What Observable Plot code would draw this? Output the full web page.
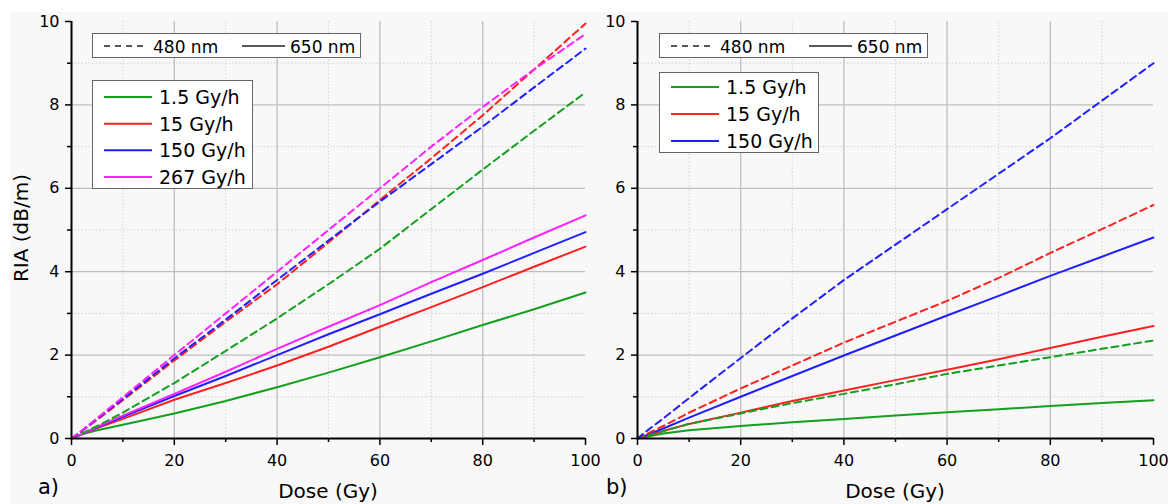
<!DOCTYPE html>
<html><head><meta charset="utf-8">
<script src="https://cdn.jsdelivr.net/npm/d3@7"></script>
<script src="https://cdn.jsdelivr.net/npm/@observablehq/plot@0.6"></script>
<style>
html,body{margin:0;padding:0;background:#fff;}
#root{position:relative;width:1171px;height:504px;overflow:hidden;}
.bg{position:absolute;left:10px;top:12px;width:1158px;height:492px;background:#f8f8f8;}
.panel{position:absolute;top:0;}
#overlay{position:absolute;left:0;top:0;pointer-events:none;}
</style></head>
<body><div id="root"><div class="bg"></div></div>
<script>
// ---- data ----
const doses = [0, 2, 5, 10, 20, 30, 40, 50, 60, 70, 80, 90, 100];
const ratesA = ["1.5 Gy/h", "15 Gy/h", "150 Gy/h", "267 Gy/h"];
const ratesB = ["1.5 Gy/h", "15 Gy/h", "150 Gy/h"];
const rateColors = ["#12a01e", "#ff2020", "#2020ff", "#ff22ff"];
const wavelengths = ["480 nm", "650 nm"];
const xMajor = [0, 20, 40, 60, 80, 100];
const xMinor = [10, 30, 50, 70, 90];
const yMajor = [0, 2, 4, 6, 8, 10];
const yMinor = [1, 3, 5, 7, 9];

// panel a) 480 nm
const a480_1_5 = [0, 0.12, 0.30, 0.62, 1.33, 2.10, 2.88, 3.70, 4.55, 5.50, 6.45, 7.38, 8.30];
const a480_15  = [0, 0.18, 0.45, 0.92, 1.87, 2.80, 3.70, 4.70, 5.72, 6.72, 7.75, 8.85, 9.95];
const a480_150 = [0, 0.18, 0.47, 0.95, 1.92, 2.85, 3.80, 4.75, 5.68, 6.58, 7.48, 8.42, 9.35];
const a480_267 = [0, 0.19, 0.49, 0.99, 2.00, 3.00, 4.00, 5.00, 6.00, 7.00, 7.95, 8.85, 9.70];
// panel a) 650 nm
const a650_1_5 = [0, 0.10, 0.20, 0.33, 0.60, 0.90, 1.23, 1.58, 1.95, 2.33, 2.72, 3.10, 3.50];
const a650_15  = [0, 0.10, 0.25, 0.47, 0.93, 1.33, 1.75, 2.20, 2.68, 3.15, 3.63, 4.12, 4.60];
const a650_150 = [0, 0.10, 0.27, 0.52, 1.02, 1.50, 2.00, 2.50, 2.98, 3.47, 3.95, 4.45, 4.95];
const a650_267 = [0, 0.10, 0.28, 0.55, 1.07, 1.60, 2.15, 2.68, 3.20, 3.75, 4.28, 4.82, 5.35];
// panel b) 480 nm
const b480_1_5 = [0, 0.07, 0.18, 0.35, 0.60, 0.85, 1.07, 1.30, 1.55, 1.75, 1.95, 2.15, 2.35];
const b480_15  = [0, 0.12, 0.30, 0.62, 1.20, 1.75, 2.30, 2.80, 3.30, 3.85, 4.45, 5.02, 5.60];
const b480_150 = [0, 0.20, 0.48, 0.97, 1.93, 2.88, 3.80, 4.65, 5.50, 6.35, 7.20, 8.10, 9.00];
// panel b) 650 nm
const b650_1_5 = [0, 0.05, 0.12, 0.20, 0.30, 0.39, 0.47, 0.55, 0.63, 0.70, 0.78, 0.85, 0.92];
const b650_15  = [0, 0.07, 0.18, 0.35, 0.62, 0.90, 1.15, 1.40, 1.65, 1.90, 2.17, 2.44, 2.70];
const b650_150 = [0, 0.09, 0.24, 0.50, 1.00, 1.50, 1.99, 2.47, 2.95, 3.42, 3.90, 4.36, 4.82];

function table(seriesByWl, rates) {
  const out = [];
  wavelengths.forEach((wl, wi) => {
    seriesByWl[wi].forEach((vals, ri) => {
      vals.forEach((v, i) => out.push({dose: doses[i], ria: v, rate: rates[ri], wl}));
    });
  });
  return out;
}
const dataA = table([[a480_1_5, a480_15, a480_150, a480_267], [a650_1_5, a650_15, a650_150, a650_267]], ratesA);
const dataB = table([[b480_1_5, b480_15, b480_150], [b650_1_5, b650_15, b650_150]], ratesB);

const FONT = "DejaVu Sans, sans-serif";

function panel(data, rates, ml, mr) {
  return Plot.plot({
    width: 595, height: 504,
    marginLeft: ml, marginRight: mr, marginTop: 21, marginBottom: 66,
    x: {domain: [0, 100]},
    y: {domain: [0, 10]},
    color: {domain: rates, range: rateColors.slice(0, rates.length)},
    style: {background: "transparent", fontFamily: FONT, fontSize: "16px", color: "#000", overflow: "visible"},
    marks: [
      Plot.ruleX(xMinor, {stroke: "#d2d2d2", strokeDasharray: "1.5,2", strokeWidth: 1}),
      Plot.ruleY(yMinor, {stroke: "#d2d2d2", strokeDasharray: "1.5,2", strokeWidth: 1}),
      Plot.ruleX(xMajor.filter(d => d > 0 && d < 100), {stroke: "#bfbfbf", strokeWidth: 1.3}),
      Plot.ruleY(yMajor.filter(d => d > 0 && d < 10), {stroke: "#bfbfbf", strokeWidth: 1.3}),
      Plot.line(data.filter(d => d.wl === "650 nm"), {x: "dose", y: "ria", z: "rate", stroke: "rate", strokeWidth: 2}),
      Plot.line(data.filter(d => d.wl === "480 nm"), {x: "dose", y: "ria", z: "rate", stroke: "rate", strokeWidth: 2, strokeDasharray: "7,4.5"}),
      Plot.axisX(xMajor, {tickSize: 7, tickPadding: 9, label: null, fontSize: 16, strokeWidth: 1.5}),
      Plot.axisX(xMinor, {tickSize: 4, tickFormat: () => "", label: null, strokeWidth: 1.5}),
      Plot.axisY(yMajor, {tickSize: 6, tickPadding: 6, label: null, fontSize: 16, strokeWidth: 1.5}),
      Plot.axisY(yMinor, {tickSize: 4, tickFormat: () => "", label: null, strokeWidth: 1.5}),
      Plot.ruleX([0], {stroke: "#000", strokeWidth: 2}),
      Plot.ruleY([0], {stroke: "#000", strokeWidth: 2})
    ]
  });
}

const root = document.getElementById("root");
const pa = panel(dataA, ratesA, 71, 10);
pa.classList.add("panel"); pa.style.left = "0px";
root.appendChild(pa);
const pb = panel(dataB, ratesB, 61, 18);
pb.classList.add("panel"); pb.style.left = "576px";
root.appendChild(pb);

// ---- overlay: titles and legends ----
const NS = "http://www.w3.org/2000/svg";
const ov = document.createElementNS(NS, "svg");
ov.setAttribute("id", "overlay");
ov.setAttribute("width", 1171); ov.setAttribute("height", 504);
root.appendChild(ov);
function el(tag, attrs, text) {
  const e = document.createElementNS(NS, tag);
  for (const k in attrs) e.setAttribute(k, attrs[k]);
  if (text != null) e.textContent = text;
  ov.appendChild(e);
  return e;
}
function txt(x, y, s, size, extra = {}) {
  return el("text", Object.assign({x, y, "font-family": FONT, "font-size": size, fill: "#000"}, extra), s);
}
txt(28, 228, "RIA (dB/m)", 20, {"text-anchor": "middle", transform: "rotate(-90 28 228)"});
txt(328, 498, "Dose (Gy)", 20, {"text-anchor": "middle"});
txt(895, 498, "Dose (Gy)", 20, {"text-anchor": "middle"});
txt(38, 494, "a)", 21);
txt(606, 494, "b)", 21);

function styleLegend(x0, y0) {
  el("rect", {x: x0 + 0.5, y: y0 + 0.5, width: 268, height: 24, fill: "#fff", stroke: "#666", "stroke-width": 1});
  el("line", {x1: x0 + 12, x2: x0 + 56, y1: y0 + 13, y2: y0 + 13, stroke: "#222", "stroke-width": 1.7, "stroke-dasharray": "6,5"});
  txt(x0 + 61, y0 + 20, wavelengths[0], 17);
  el("line", {x1: x0 + 150, x2: x0 + 193, y1: y0 + 13, y2: y0 + 13, stroke: "#222", "stroke-width": 1.7});
  txt(x0 + 198, y0 + 20, wavelengths[1], 17);
}
function rateLegend(x0, y0, w, h, rows, rates) {
  el("rect", {x: x0 + 0.5, y: y0 + 0.5, width: w, height: h, fill: "#fff", stroke: "#666", "stroke-width": 1});
  rates.forEach((r, i) => {
    const y = rows[i];
    el("line", {x1: x0 + 12, x2: x0 + 60, y1: y, y2: y, stroke: rateColors[i], "stroke-width": 2});
    txt(x0 + 67, y + 7, r, 19);
  });
}
styleLegend(92, 33);
rateLegend(92, 80, 160, 108, [97, 123.7, 150.3, 177], ratesA);
styleLegend(659, 33);
rateLegend(659, 72, 159, 80, [87, 114, 141], ratesB);
</script>
</body></html>
